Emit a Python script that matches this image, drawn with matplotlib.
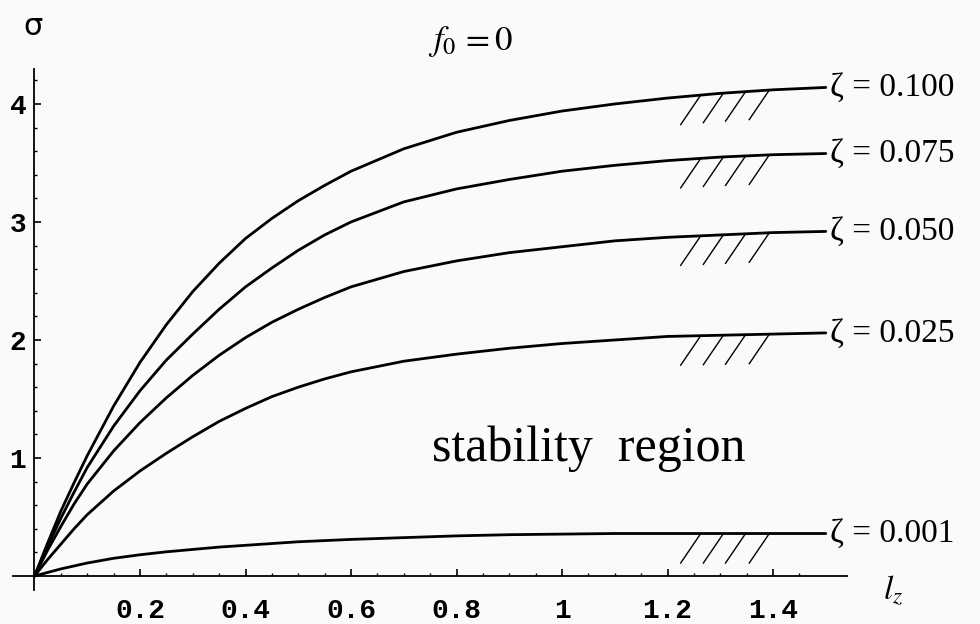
import numpy as np
import matplotlib
matplotlib.use("Agg")
import matplotlib.pyplot as plt

# --- data ---
lz = [0, 0.025, 0.05, 0.075, 0.1, 0.15, 0.2, 0.25, 0.3, 0.35, 0.4, 0.45, 0.5, 0.55, 0.6,
      0.7, 0.8, 0.9, 1.0, 1.1, 1.2, 1.3, 1.4, 1.5]

sigma_0100 = [0, 0.28, 0.55, 0.79, 1.02, 1.44, 1.81, 2.13, 2.41, 2.65, 2.86, 3.03, 3.18, 3.31, 3.43,
              3.62, 3.76, 3.86, 3.94, 4.00, 4.05, 4.09, 4.12, 4.14]
sigma_0075 = [0, 0.25, 0.49, 0.71, 0.92, 1.27, 1.57, 1.83, 2.05, 2.26, 2.45, 2.61, 2.76, 2.89, 3.00,
              3.17, 3.28, 3.36, 3.43, 3.48, 3.52, 3.55, 3.57, 3.58]
sigma_0050 = [0, 0.22, 0.42, 0.61, 0.78, 1.06, 1.30, 1.51, 1.70, 1.87, 2.02, 2.15, 2.26, 2.36, 2.45,
              2.58, 2.67, 2.74, 2.79, 2.84, 2.87, 2.89, 2.91, 2.92]
sigma_0025 = [0, 0.14, 0.27, 0.40, 0.52, 0.72, 0.89, 1.04, 1.18, 1.31, 1.42, 1.52, 1.60, 1.67, 1.73,
              1.82, 1.88, 1.93, 1.97, 2.00, 2.03, 2.04, 2.05, 2.06]
sigma_0001 = [0, 0.03, 0.06, 0.085, 0.11, 0.15, 0.18, 0.205, 0.225, 0.245, 0.26, 0.275, 0.29, 0.30, 0.31,
              0.325, 0.34, 0.35, 0.355, 0.36, 0.36, 0.36, 0.36, 0.36]

curves = [sigma_0100, sigma_0075, sigma_0050, sigma_0025, sigma_0001]
labels = ["0.100", "0.075", "0.050", "0.025", "0.001"]

x_ticks = [0.2, 0.4, 0.6, 0.8, 1.0, 1.2, 1.4]
x_ticklabels = ["0.2", "0.4", "0.6", "0.8", "1", "1.2", "1.4"]
y_ticks = [1, 2, 3, 4]
y_ticklabels = ["1", "2", "3", "4"]

hatch_x = [1.225, 1.268, 1.31, 1.355]

# --- figure ---
fig = plt.figure(figsize=(9.8, 6.24), dpi=100, facecolor="#fafafa")
ax = fig.add_axes([0, 0, 1, 1])
ax.set_facecolor("#fafafa")
ax.set_xlim(-0.0654, 1.7924)
ax.set_ylim(-0.4068, 4.881)

for spine in ["top", "right"]:
    ax.spines[spine].set_visible(False)
ax.spines["left"].set_position(("data", 0))
ax.spines["bottom"].set_position(("data", 0))
ax.spines["left"].set_bounds(-0.12, 4.3)
ax.spines["bottom"].set_bounds(-0.04, 1.54)
ax.spines["left"].set_linewidth(1.3)
ax.spines["bottom"].set_linewidth(1.3)

ax.set_xticks(x_ticks)
ax.set_xticklabels(x_ticklabels)
ax.set_yticks(y_ticks)
ax.set_yticklabels(y_ticklabels)
ax.set_xticks(np.arange(0.05, 1.5, 0.05), minor=True)
ax.set_yticks(np.arange(0.2, 4.3, 0.2), minor=True)
ax.tick_params(which="major", direction="in", length=5, width=1.2,
               labelsize=20)
ax.tick_params(axis="x", which="major", pad=16)
ax.tick_params(axis="y", which="major", pad=6)
ax.tick_params(which="minor", direction="in", length=2.5, width=1)
for lab in ax.get_xticklabels() + ax.get_yticklabels():
    lab.set_family("Liberation Mono")
    lab.set_fontweight("bold")

# curves
for s, lab in zip(curves, labels):
    ax.plot(lz, s, color="black", lw=2.0, clip_on=False,
            solid_joinstyle="round", solid_capstyle="round")
    ax.text(lz[-1] + 0.008, s[-1] - 0.075, "\u03b6 = " + lab,
            family="Liberation Serif", fontsize=24, ha="left", va="baseline")
    # short hatch strokes under the curve
    for hx in hatch_x:
        top_x = hx + 0.038
        top_y = np.interp(top_x, lz, s)
        ax.plot([hx, top_x], [top_y - 0.25, top_y], color="black", lw=1.0)

ax.text(0.754, 0.975, "stability  region", family="Liberation Serif",
        fontsize=36, ha="left", va="baseline")
ax.text(0.746, 4.458, r"$f_0\,=0$", fontsize=25, ha="left", va="baseline",
        math_fontfamily="stix")
ax.text(-0.002, 4.66, "\u03c3", family="DejaVu Sans", fontsize=22,
        ha="center", va="center")
ax.text(1.608, -0.19, r"$l_z$", fontsize=24, ha="left", va="baseline",
        math_fontfamily="stix")

fig.savefig("out.png", dpi=100, facecolor=fig.get_facecolor())
